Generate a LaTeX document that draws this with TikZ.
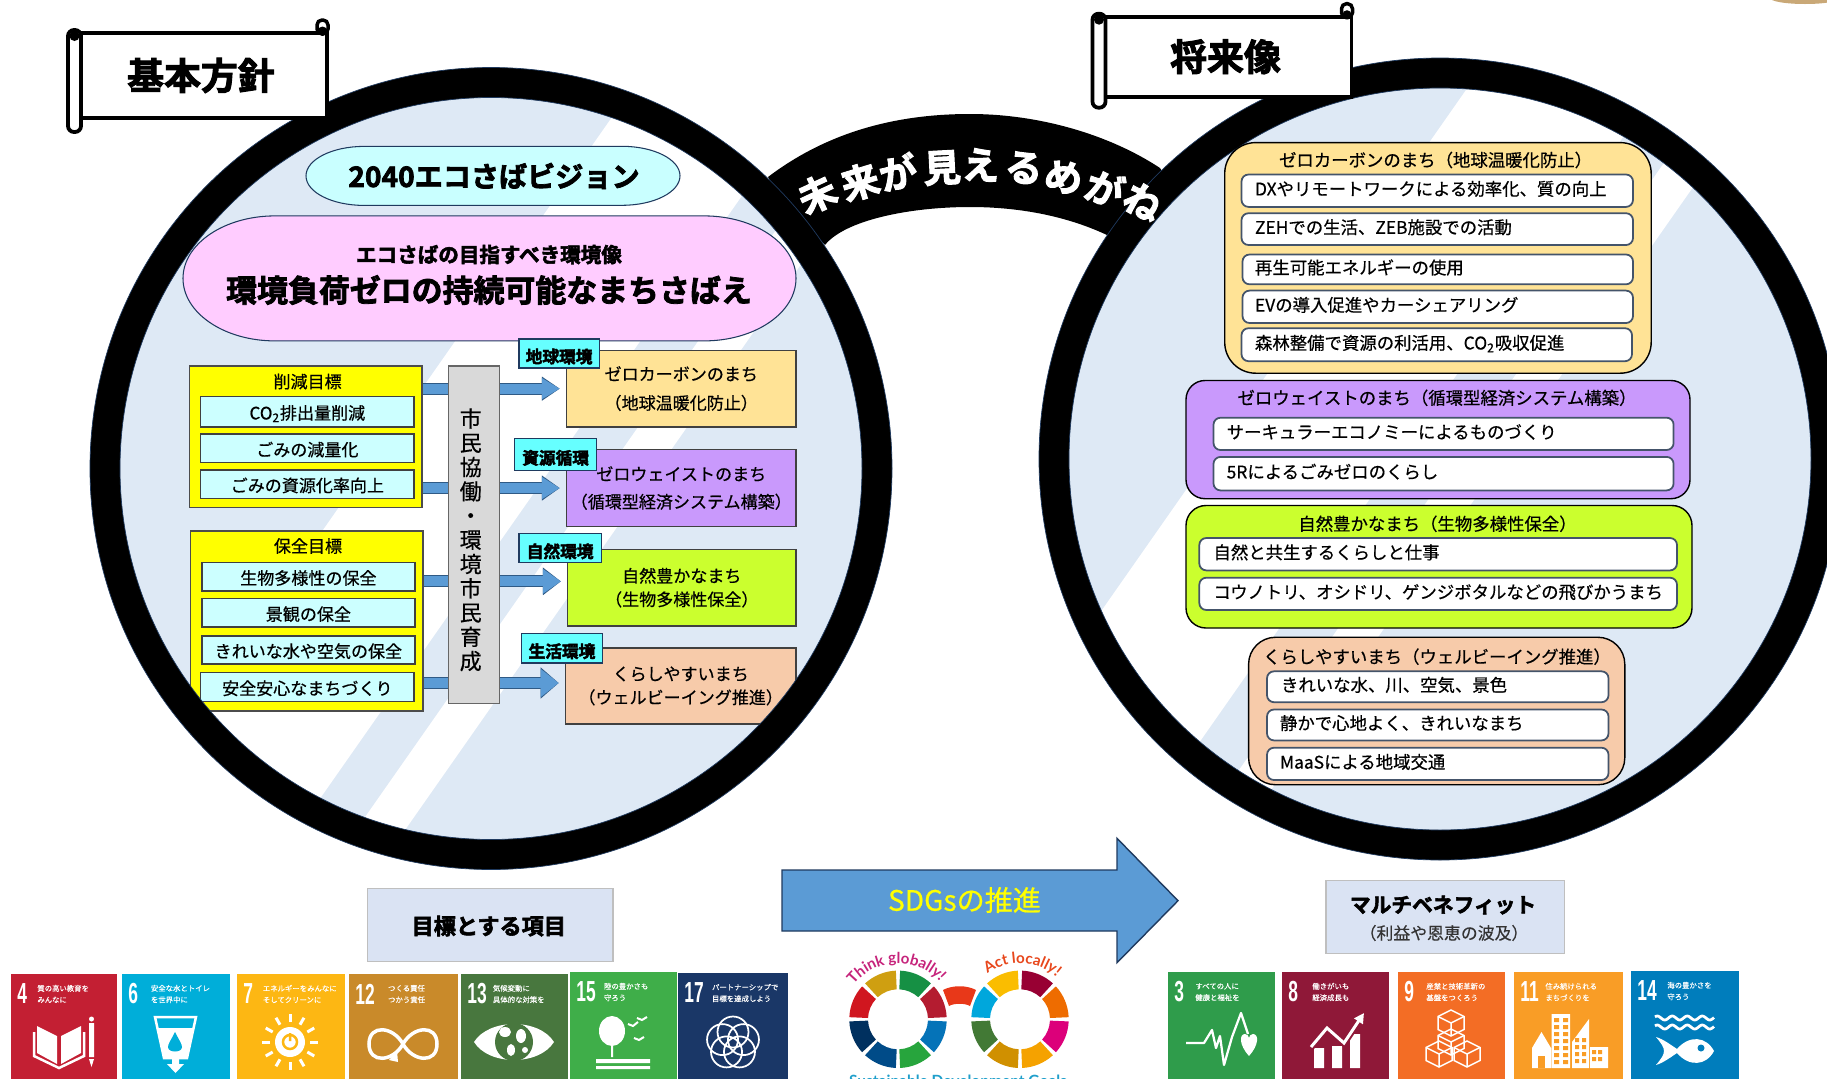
\documentclass[tikz,border=0pt]{standalone}
\usepackage{fontspec}
\usetikzlibrary{arrows.meta,decorations.text,calc}
\newfontfamily\jptext[FakeBold=0.5]{Noto Sans CJK JP}
\newfontfamily\jpthin[FakeBold=0.2]{Noto Sans CJK JP}
\newfontfamily\jpheavy[UprightFont={* Bold},FakeBold=2.6]{Noto Sans CJK JP}
\newfontfamily\numfont[FakeStretch=0.6]{Liberation Sans}
\newfontfamily\logofont{Lato}
\definecolor{discblue}{HTML}{DEE9F5}
\definecolor{ringedge}{HTML}{1F3A5F}
\definecolor{pillcyan}{HTML}{C9FFFF}
\definecolor{pillpink}{HTML}{FFCCFF}
\definecolor{cellcyan}{HTML}{CCFFFF}
\definecolor{tagcyan}{HTML}{66FFFF}
\definecolor{goalyellow}{HTML}{FFFF00}
\definecolor{cardyellow}{HTML}{FFE396}
\definecolor{cardpurple}{HTML}{C999FC}
\definecolor{cardgreen}{HTML}{CBFF2E}
\definecolor{cardorange}{HTML}{F7CBAA}
\definecolor{bargray}{HTML}{D9D9D9}
\definecolor{flowfill}{HTML}{5B9BD5}
\definecolor{flowedge}{HTML}{2F5A85}
\definecolor{rowedge}{HTML}{44546A}
\definecolor{labelblue}{HTML}{DAE3F3}
\definecolor{sdgfour}{HTML}{C31F33}
\definecolor{sdgsix}{HTML}{00AED9}
\definecolor{sdgseven}{HTML}{FDB713}
\definecolor{sdgtwelve}{HTML}{C98A2A}
\definecolor{sdgthirteen}{HTML}{48773E}
\definecolor{sdgfifteen}{HTML}{3FAE49}
\definecolor{sdgseventeen}{HTML}{1A3767}
\definecolor{sdgthree}{HTML}{2F9C4B}
\definecolor{sdgeight}{HTML}{8F1838}
\definecolor{sdgnine}{HTML}{F36D25}
\definecolor{sdgeleven}{HTML}{F99D26}
\definecolor{sdgfourteen}{HTML}{007DBC}
\definecolor{logorose}{HTML}{C6237B}
\definecolor{logoorange}{HTML}{E8471C}
\definecolor{logocyan}{HTML}{1F9FCB}
\definecolor{logobridge}{HTML}{E83819}
\definecolor{cornertan}{HTML}{C9A877}
\tikzset{
	wh/.style 2 args={minimum width=#1*0.02cm,minimum height=#2*0.02cm,inner sep=0pt},
	jpcell/.style={font=\jptext\fontsize{9.7}{12}\selectfont,text=black},
	jpcard/.style={font=\jptext\fontsize{9.9}{12}\selectfont,text=black},
	goalbox/.style={draw=black!70,line width=0.9pt,fill=goalyellow},
	cellbox/.style={draw=black!75,line width=0.8pt,fill=cellcyan,jpcell,text height=0.41cm,text depth=0.1cm},
	townbox/.style={draw=black!75,line width=0.8pt,jpcell,align=center},
	tagbox/.style={draw=ringedge,line width=0.7pt,fill=tagcyan,font=\jpheavy\fontsize{9.5}{12}\selectfont,text height=0.48cm,text depth=0.1cm},
	cardbox/.style={draw=black,line width=0.8pt},
	rowcell/.style n args={3}{draw=rowedge,line width=1pt,fill=white,rounded corners=0.14cm,jpcard,
		minimum height=#2*0.02cm,text width={(#1-2*#3)*0.02cm},inner xsep=#3*0.02cm,inner ysep=0pt,align=left,text height=0.29cm,text depth=0.1cm},
	ring/.style={draw=black,line width=30*0.02cm},
	flowarrow/.style={flowfill,line width=0.2cm,shorten >=0.12cm,-{Triangle[length=0.36cm,width=#1]},
		preaction={draw=flowedge,line width=0.24cm,-{Triangle[length=0.36cm,width=#1+0.06cm]}}},
	labelbox/.style={draw=black!25,line width=0.8pt,fill=labelblue},
	tile/.style={draw=none},
	tilenum/.style={font=\numfont\bfseries\fontsize{16.5}{17}\selectfont,text=white,inner sep=0pt},
	tilecap/.style={font=\jpthin\fontsize{4.2}{6.5}\selectfont,text=white,inner sep=0pt,align=left},
	icon/.style={white,line width=0.05cm}
}
% scroll banner: x, y, height, extra length of the roll, text, name
\newcommand{\scrollbanner}[6]{
	\begin{scope}[shift={(#1,#2)}]
		\draw[draw=black,line width=0.075cm,fill=white] (0,0) rectangle (247,#3);
		\draw[draw=black,line width=0.075cm,fill=white,rounded corners=0.12cm] (-12,-3) rectangle (1,{#3+#4});
		\fill[black] (-5.5,3) circle (5);
		\draw[draw=black,line width=0.07cm,fill=white,rounded corners=0.1cm] (237,-13) rectangle (248,1);
		\fill[black] (242.5,-2) circle (4.5);
		\node[font=\jpheavy\fontsize{21}{24}\selectfont] (#6) at (121,{#3/2}) {#5};
	\end{scope}
}
\begin{document}
\begin{tikzpicture}[x=0.02cm,y=-0.02cm]
	\useasboundingbox (0,0) rectangle (1827,1079);
	\clip (0,0) rectangle (1827,1079);
	\fill[white] (0,0) rectangle (1827,1079);
	\fill[cornertan] (1805,-2) ellipse (35 and 6);

	% bridge between the two discs
	\fill[black] (768,177) .. controls (830,130) and (900,114) .. (970,114) .. controls (1040,114) and (1110,135) .. (1160,168)
		-- (1180,200) -- (1107,235) .. controls (1060,213) and (1010,207) .. (970,207) .. controls (910,207) and (845,220) .. (825,245) -- (780,200) -- cycle;

	% left disc
	\coordinate (leftc) at (491,468.5);
	\fill[discblue] (leftc) circle (386);
	\begin{scope}
		\clip (leftc) circle (386);
		\fill[white] (666,40) -- (851,40) -- (249,900) -- (64,900) -- cycle;
		\fill[white] (909,40) -- (958,40) -- (356,900) -- (307,900) -- cycle;
	\end{scope}

	% right disc
	\coordinate (rightc) at (1440,459);
	\fill[discblue] (rightc) circle (386);
	\begin{scope}
		\clip (rightc) circle (386);
		\fill[white] (1501,40) -- (1691,40) -- (1089,900) -- (899,900) -- cycle;
		\fill[white] (1750,40) -- (1796,40) -- (1194,900) -- (1148,900) -- cycle;
	\end{scope}

	% vision pills
	\draw[draw=ringedge,line width=0.6pt,fill=pillcyan] (364,146.3) -- (622,146.3) arc[start angle=-90,end angle=0,x radius=58,y radius=29.5] arc[start angle=0,end angle=90,x radius=58,y radius=29.5]
		-- (364,205.4) arc[start angle=90,end angle=180,x radius=58,y radius=29.5] arc[start angle=180,end angle=270,x radius=58,y radius=29.5] -- cycle;
	\node[font=\jpheavy\fontsize{16}{18}\selectfont,inner sep=0pt] (visiontitle) at (494,176) {2040エコさばビジョン};
	\draw[draw=ringedge,line width=0.6pt,fill=pillpink] (275,215.9) -- (704,215.9) arc[start angle=-90,end angle=0,x radius=92,y radius=62.5] arc[start angle=0,end angle=90,x radius=92,y radius=62.5]
		-- (275,340.9) arc[start angle=90,end angle=180,x radius=92,y radius=62.5] arc[start angle=180,end angle=270,x radius=92,y radius=62.5] -- cycle;
	\node[font=\jpheavy\fontsize{11.7}{14}\selectfont,inner sep=0pt] (aimtitle) at (489,254.6) {エコさばの目指すべき環境像};
	\node[font=\jpheavy\fontsize{17.6}{20}\selectfont,inner sep=0pt] (aimtext) at (489,290) {環境負荷ゼロの持続可能なまちさばえ};

	% goals
	\node[goalbox,wh={232.4}{141.7}] (sakugen) at (305.8,436.85) {};
	\node[jpcell] (sakugenhead) at (307.6,381.6) {削減目標};
	\node[cellbox,wh={213.3}{30.7}] (co2cell) at (307.35,411.65) {CO\textsubscript{2}排出量削減};
	\node[cellbox,wh={213.3}{28.7}] (gomicell) at (307.35,448.35) {ごみの減量化};
	\node[cellbox,wh={213.3}{28.3}] (shigencell) at (307.35,484.15) {ごみの資源化率向上};
	\node[goalbox,wh={232.4}{180}] (hozen) at (306.8,621) {};
	\node[jpcell] (hozenhead) at (308,546) {保全目標};
	\node[cellbox,wh={213.2}{28.3}] (seibutsucell) at (308.4,576.75) {生物多様性の保全};
	\node[cellbox,wh={213.2}{28.3}] (keikancell) at (308.4,612.85) {景観の保全};
	\node[cellbox,wh={213.2}{28.2}] (mizucell) at (308.4,649.9) {きれいな水や空気の保全};
	\node[cellbox,wh={213.3}{29.3}] (anzencell) at (307.35,687.05) {安全安心なまちづくり};

	% towns
	\node[townbox,fill=cardyellow,wh={229.5}{76.7}] (zerocarbon) at (681.25,388.65) {ゼロカーボンのまち\\[4.5pt]（地球温暖化防止）};
	\node[townbox,fill=cardpurple,wh={229.5}{76.9}] (zerowaste) at (681.25,488.05) {ゼロウェイストのまち\\[3.8pt]（循環型経済システム構築）};
	\node[townbox,fill=cardgreen,wh={228.4}{76.3}] (natural) at (681.8,587.65) {自然豊かなまち\\[1.4pt]（生物多様性保全）};
	\node[townbox,fill=cardorange,wh={230.6}{76.2}] (livable) at (680.7,686) {くらしやすいまち\\[1.4pt]（ウェルビーイング推進）};
	\node[tagbox,wh={80.4}{28.2}] (tagearth) at (559.1,353.4) {地球環境};
	\node[tagbox,wh={82.1}{31.9}] (tagcycle) at (555.65,454.65) {資源循環};
	\node[tagbox,wh={82.5}{28.8}] (tagnature) at (560.15,548.2) {自然環境};
	\node[tagbox,wh={81}{29.8}] (taglife) at (562,648.1) {生活環境};

	% flows behind the bar
	\coordinate (naturalin) at ([yshift=0.126cm]natural.west);
	\coordinate (livablein) at ([yshift=0.06cm]livable.west);
	\draw[flowarrow=0.4cm] (sakugen.east |- zerocarbon.west) -- (zerocarbon.west);
	\draw[flowarrow=0.42cm] (sakugen.east |- zerowaste.west) -- (zerowaste.west);
	\draw[flowarrow=0.47cm] (hozen.east |- naturalin) -- (naturalin);
	\draw[flowarrow=0.54cm] (hozen.east |- livablein) -- (livablein);

	\node[draw=black!60,line width=0.7pt,fill=bargray,wh={50.9}{337.3}] (citizenbar) at (473.85,534.65) {};
	\node[font=\jptext\fontsize{12.5}{13.8}\selectfont,align=center,inner sep=0pt] (citizenlabel) at (470.7,539.8) {市\\民\\協\\働\\・\\環\\境\\市\\民\\育\\成};

	% rings over the boxes
	\draw[ring] (leftc) circle (386);
	\draw[ring] (rightc) circle (386);
	\draw[ringedge,line width=0.4pt] (leftc) circle (371) (leftc) circle (401);
	\draw[ringedge,line width=0.4pt] (rightc) circle (371) (rightc) circle (401);

	% future cards
	\node[cardbox,fill=cardyellow,rounded corners=0.62cm,wh={426.5}{230.6}] (carbonframe) at (1437.95,257.9) {};
	\node[jpcard] (carbontitle) at (1435.6,160) {ゼロカーボンのまち（地球温暖化防止）};
	\node[rowcell={391.5}{32.4}{13.5}] (carbonrowa) at (1437.25,190.7) {DXやリモートワークによる効率化、質の向上};
	\node[rowcell={391.5}{31.8}{13.5}] (carbonrowb) at (1437.25,229.1) {ZEHでの生活、ZEB施設での活動};
	\node[rowcell={390.5}{29.8}{12.5}] (carbonrowc) at (1437.75,269.4) {再生可能エネルギーの使用};
	\node[rowcell={390.5}{32.4}{12.5}] (carbonrowd) at (1437.75,306.8) {EVの導入促進やカーシェアリング};
	\node[rowcell={390.5}{33}{13.5}] (carbonrowe) at (1436.75,344.7) {森林整備で資源の利活用、CO\textsubscript{2}吸収促進};

	\node[cardbox,fill=cardpurple,rounded corners=0.38cm,wh={504}{118.2}] (wasteframe) at (1438,439.6) {};
	\node[jpcard] (wastetitle) at (1437,397.8) {ゼロウェイストのまち（循環型経済システム構築）};
	\node[rowcell={460.1}{32.3}{13.2}] (wasterowa) at (1443.55,433.85) {サーキュラーエコノミーによるものづくり};
	\node[rowcell={460.1}{33.5}{13.2}] (wasterowb) at (1443.55,473.65) {5Rによるごみゼロのくらし};

	\node[cardbox,fill=cardgreen,rounded corners=0.4cm,wh={506}{122.5}] (natureframe) at (1439,566.75) {};
	\node[jpcard] (naturetitle) at (1437.5,523.8) {自然豊かなまち（生物多様性保全）};
	\node[rowcell={477.7}{32.4}{14.2}] (naturerowa) at (1438.15,554.2) {自然と共生するくらしと仕事};
	\node[rowcell={477.7}{32.3}{14.2}] (naturerowb) at (1438.15,593.85) {コウノトリ、オシドリ、ゲンジボタルなどの飛びかうまち};

	\node[cardbox,fill=cardorange,rounded corners=0.54cm,wh={376.2}{147.5}] (lifeframe) at (1436.7,711) {};
	\node[jpcard] (lifetitle) at (1437,656.7) {くらしやすいまち（ウェルビーイング推進）};
	\node[rowcell={341.5}{30.9}{14}] (liferowa) at (1437.75,686.75) {きれいな水、川、空気、景色};
	\node[rowcell={341.5}{30.9}{13}] (liferowb) at (1437.75,724.95) {静かで心地よく、きれいなまち};
	\node[rowcell={341.5}{32.3}{13}] (liferowc) at (1437.75,763.85) {MaaSによる地域交通};

	% lettering on the bridge
	\foreach \ch/\lx/\ly/\lr [count=\i] in {未/817/194/25,来/860/182/17,が/898/172/12,見/942/168/3,え/981/165/-3,る/1024/168/-8,め/1064/177/-15,が/1105/188/-20,ね/1143/202/-30}
		\node[font=\jpheavy\fontsize{21.5}{24}\selectfont,text=white,inner sep=0pt,rotate=\lr] (bridgechar\i) at (\lx,\ly) {\ch};

	\scrollbanner{80}{33}{85}{14}{基本方針}{policytitle}
	\scrollbanner{1104.5}{16.7}{80}{11}{将来像}{futuretitle}

	% bottom labels
	\node[labelbox,wh={245.7}{73.4}] (targetlabel) at (490.2,925) {};
	\node[font=\jpheavy\fontsize{12.6}{15}\selectfont,inner sep=0pt] (targettext) at (488.8,926) {目標とする項目};
	\node[labelbox,wh={238.6}{72.6}] (benefitlabel) at (1445.3,917) {};
	\node[font=\jpheavy\fontsize{11.8}{14}\selectfont,inner sep=0pt] (benefittext) at (1443,905) {マルチベネフィット};
	\node[font=\jpthin\fontsize{9.6}{12}\selectfont,text=black!80,inner sep=0pt] (benefitnote) at (1444,933) {（利益や恩恵の波及）};

	% big arrow
	\draw[draw=ringedge,line width=0.8pt,fill=flowfill] (782,870) -- (1117,870) -- (1117,838.3) -- (1178,900.7) -- (1117,962.7) -- (1117,931) -- (782,931) -- cycle;
	\node[font=\jptext\fontsize{16}{18}\selectfont,text=goalyellow,inner sep=0pt] (sdgtext) at (964.5,900) {SDGsの推進};

	% goal tiles
	\foreach \id/\tx/\ty/\tw/\tc/\nx/\la/\lb in {
		four/11/974/106/sdgfour/26/質の高い教育を/みんなに,
		six/122/974/108/sdgsix/28.6/安全な水とトイレ/を世界中に,
		seven/237/974/108/sdgseven/25.5/エネルギーをみんなに/そしてクリーンに,
		twelve/349/974/109/sdgtwelve/38.8/つくる責任/つかう責任,
		thirteen/461/974/107/sdgthirteen/31.6/気候変動に/具体的な対策を,
		fifteen/570/972/107/sdgfifteen/33.7/陸の豊かさも/守ろう,
		seventeen/678/973/110/sdgseventeen/33.7/パートナーシップで/目標を達成しよう,
		three/1168/972/107/sdgthree/27/すべての人に/健康と福祉を,
		eight/1282/972/107/sdgeight/30/働きがいも/経済成長も,
		nine/1398/972/107/sdgnine/28/産業と技術革新の/基盤をつくろう,
		eleven/1514/972/109/sdgeleven/31/住み続けられる/まちづくりを,
		fourteen/1631/971/108/sdgfourteen/36/海の豊かさを/守ろう}{
		\node[tile,fill=\tc,wh={\tw}{112},anchor=north west] (tile\id) at (\tx,\ty) {};
		\node[tilecap,anchor=west] (cap\id) at ({\tx+\nx},{\ty+20}) {\la\\\lb};
	}
	\foreach \id/\tx/\ty/\num in {four/11/974/4,six/122/974/6,seven/237/974/7,twelve/349/974/12,thirteen/461/974/13,fifteen/570/972/15,seventeen/678/973/17,three/1168/972/3,eight/1282/972/8,nine/1398/972/9,eleven/1514/972/11,fourteen/1631/971/14}
		\node[tilenum,anchor=west] (num\id) at ({\tx+6},{\ty+20}) {\num};

	% tile pictures
	\begin{scope}[shift={(11,974)}]
		\fill[white] (26,52) -- (46,62) -- (46,90) -- (26,79) -- cycle (50,62) -- (70,52) -- (70,79) -- (50,90) -- cycle;
		\draw[icon] (23,58) -- (23,82) -- (48,94) -- (73,82) -- (73,58);
		\fill[white] (78,49) rectangle (83,83) (78,85) -- (83,85) -- (80.5,93) -- cycle (80.5,45) circle (2.5);
	\end{scope}
	\begin{scope}[shift={(122,974)}]
		\fill[white] (35,54) -- (72,54) -- (65,84) -- (42,84) -- cycle (50,84) rectangle (57,90) (45,90) -- (62,90) -- (53.5,99) -- cycle;
		\draw[icon] (33,43) -- (74,43) -- (65,84) -- (42,84) -- cycle;
		\fill[sdgsix] (53,58) .. controls (49,66) and (46,70) .. (46,73) .. controls (46,79) and (60,79) .. (60,73) .. controls (60,70) and (57,66) .. (53,58);
	\end{scope}
	\begin{scope}[shift={(237,974)}]
		\foreach \a in {0,30,...,330}
			\draw[white,line width=0.06cm] (53,68) ++(\a:20) -- ++(\a:8);
		\fill[white] (53,68) circle (15);
		\draw[sdgseven,line width=0.05cm] (53,68) circle (7) (53,59) -- (53,67);
	\end{scope}
	\begin{scope}[shift={(349,974)}]
		\draw[white,line width=0.07cm] (54,70) .. controls (64,52) and (88,50) .. (88,70) .. controls (88,90) and (64,88) .. (54,70) .. controls (44,52) and (20,50) .. (20,70) .. controls (20,90) and (44,88) .. (54,70);
		\fill[white] (40,86) -- (48,77) -- (49,88) -- cycle;
	\end{scope}
	\begin{scope}[shift={(461,974)}]
		\fill[white] (13,68) .. controls (28,44) and (78,44) .. (93,68) .. controls (78,92) and (28,92) .. (13,68) -- cycle;
		\fill[sdgthirteen] (53,68) circle (19);
		\fill[white] (44,58) ellipse (6 and 5) (60,62) ellipse (5 and 7) (50,76) ellipse (4 and 6) (64,76) ellipse (3 and 3);
	\end{scope}
	\begin{scope}[shift={(570,972)}]
		\fill[white] (42,59) ellipse (13 and 15) (41,74) rectangle (43,85) (26,87) rectangle (80,91) (26,94) rectangle (80,97);
		\draw[white,line width=0.04cm] (58,52) -- (63,54) -- (68,50) (64,66) -- (69,68) -- (74,65) (67,46) -- (72,48) -- (77,45);
	\end{scope}
	\begin{scope}[shift={(678,973)}]
		\foreach \a in {-90,-18,54,126,198}
			\draw[white,line width=0.035cm] (55,70) ++(\a:11) circle (15.5);
	\end{scope}
	\begin{scope}[shift={(1168,972)}]
		\draw[white,line width=0.045cm,line join=round] (18,71) -- (36,71) -- (44,58) -- (48,76) -- (52,64) -- (56,93) -- (64,65) -- (73,41) -- (80,62);
		\fill[white] (81,84) .. controls (71,73) and (71,62) .. (77,62) .. controls (79,62) and (81,64) .. (81,66) .. controls (81,64) and (83,62) .. (85,62) .. controls (91,62) and (91,73) .. (81,84);
	\end{scope}
	\begin{scope}[shift={(1282,972)}]
		\fill[white] (32,76) rectangle (42,96) (50,74) rectangle (60,96) (68,62) rectangle (78,96);
		\draw[sdgeight,line width=0.14cm] (29,75) -- (45,56) -- (62,71) -- (80,44);
		\draw[white,line width=0.06cm,-{Triangle[length=0.2cm,width=0.2cm]}] (29,75) -- (45,56) -- (62,71) -- (82,41);
	\end{scope}
	\begin{scope}[shift={(1398,972)}]
		\foreach \cx/\cy in {53/51,53/70,41/82,69/82}{
			\draw[white,line width=0.03cm] (\cx,{\cy-13}) -- ({\cx+13},{\cy-6.5}) -- ({\cx+13},{\cy+6.5}) -- (\cx,{\cy+13}) -- ({\cx-13},{\cy+6.5}) -- ({\cx-13},{\cy-6.5}) -- cycle;
			\draw[white,line width=0.03cm] ({\cx-13},{\cy-6.5}) -- (\cx,\cy) -- ({\cx+13},{\cy-6.5}) (\cx,\cy) -- (\cx,{\cy+13});
		}
	\end{scope}
	\begin{scope}[shift={(1514,972)}]
		\fill[white] (18,76) -- (27.5,60) -- (37,76) -- (37,96) -- (18,96) -- cycle (37.5,42) rectangle (56,96) (58,96) -- (58,70) -- (75,47) -- (75,96) -- cycle (76,75) rectangle (94,96);
		\fill[sdgeleven] (24,84) rectangle (31,96);
		\foreach \wy in {46,53,...,88}
			\fill[sdgeleven] (40,\wy) rectangle (45,{\wy+4}) (49,\wy) rectangle (54,{\wy+4});
		\foreach \wy in {66,73,...,90}
			\fill[sdgeleven] (61,\wy) rectangle (65,{\wy+4}) (68,\wy) rectangle (72,{\wy+4});
		\foreach \wy in {78,85}
			\fill[sdgeleven] (78,\wy) rectangle (82,{\wy+4}) (84,\wy) rectangle (88,{\wy+4});
	\end{scope}
	\begin{scope}[shift={(1631,971)}]
		\foreach \wy in {47,56}
			\draw[white,line width=0.055cm] plot[domain=24:83,samples=50] (\x,{\wy+2*sin(\x*24)});
		\fill[white] (83,80) .. controls (75,65) and (58,64) .. (46,78) .. controls (40,74) and (32,68) .. (25,66) .. controls (30,72) and (33,76) .. (33,80) .. controls (33,84) and (30,88) .. (25,94) .. controls (32,92) and (40,86) .. (46,82) .. controls (58,96) and (75,95) .. (83,80) -- cycle;
		\fill[sdgfourteen] (70,77) circle (3.5);
	\end{scope}

	% logo rings
	\foreach \cx/\list in {898/{169044,B41C30,0573B8,27A53D,004B88,00305F,D0161F,CF9F11},1020/{980033,EE6C00,DC007A,F5A200,D09000,427935,00A7DC,FABD00}}{
		\foreach \c [count=\k from 0] in \list {
			\definecolor{ringc}{HTML}{\c}
			\pgfmathsetmacro{\sa}{-90+45*\k+2.5}
			\pgfmathsetmacro{\sb}{-90+45*\k+42.5}
			\fill[ringc] (\cx,1019.3) ++(\sa:48.7) arc[start angle=\sa,end angle=\sb,radius=48.7] -- ($(\cx,1019.3)+(\sb:30)$) arc[start angle=\sb,end angle=\sa,radius=30] -- cycle;
		}
	}
	\fill[logobridge] (943,990) .. controls (952,985) and (967,985) .. (976,990) -- (970,1006) .. controls (965,1003) and (954,1003) .. (949,1006) -- cycle;
	\begin{scope}[shift={(898,1019.3)},x=0.02cm,y=0.02cm]
		\path[decorate,decoration={text along path,text align=center,text={|\logofont\bfseries\fontsize{8.6}{10}\selectfont\color{logorose}|Think globally!}}] (146:56) arc[start angle=146,end angle=38,radius=56];
	\end{scope}
	\begin{scope}[shift={(1020,1019.3)},x=0.02cm,y=0.02cm]
		\path[decorate,decoration={text along path,text align=center,text={|\logofont\bfseries\fontsize{8.6}{10}\selectfont\color{logoorange}|Act locally!}}] (130:56) arc[start angle=130,end angle=45,radius=56];
	\end{scope}
	\node[font=\logofont\bfseries\fontsize{8.8}{10}\selectfont,text=logocyan,inner sep=0pt,anchor=base] (logocaption) at (958,1086) {Sustainable Development Goals};
\end{tikzpicture}
\end{document}
